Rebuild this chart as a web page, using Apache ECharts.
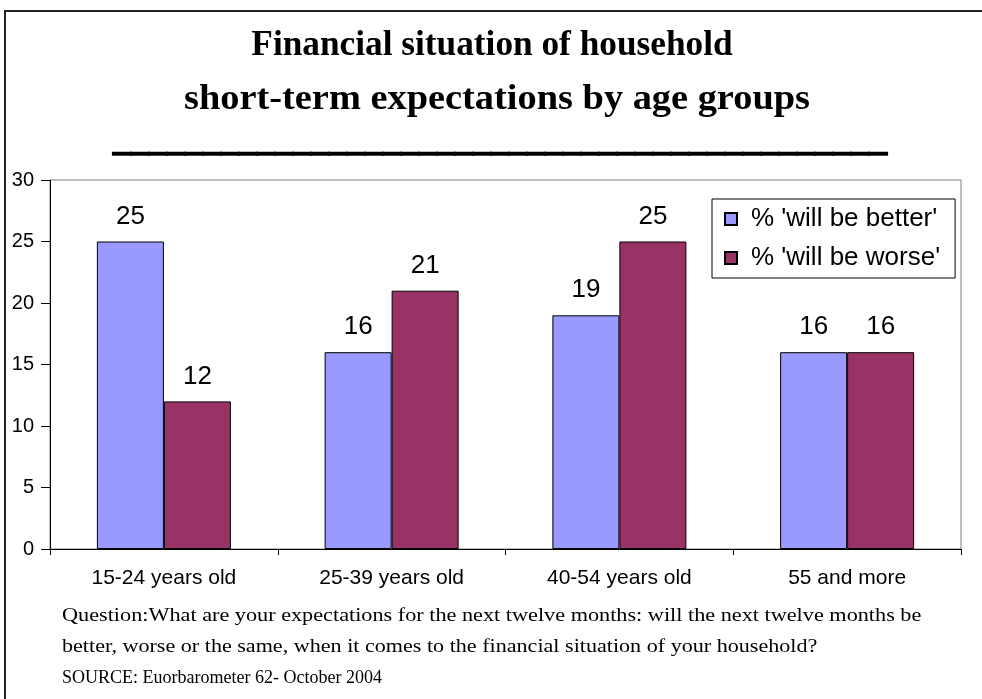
<!DOCTYPE html>
<html>
<head>
<meta charset="utf-8">
<script src="https://cdn.jsdelivr.net/npm/echarts@6/dist/echarts.min.js"></script>
<style>
html,body{margin:0;padding:0;background:#fff;}
#chart{width:982px;height:699px;}
</style>
</head>
<body>
<div id="chart"></div>
<script>
var categories = ['15-24 years old', '25-39 years old', '40-54 years old', '55 and more'];
var better = [25, 16, 19, 16];
var worse = [12, 21, 25, 16];
var seriesNames = ["% 'will be better'", "% 'will be worse'"];
var titleLines = ['Financial situation of household', 'short-term expectations by age groups'];
var footerLines = [
  'Question:What are your expectations for the next twelve months: will the next twelve months be',
  'better, worse or the same, when it comes to the financial situation of your household?',
  'SOURCE: Euorbarometer 62- October 2004'
];

var chart = echarts.init(document.getElementById('chart'), null, {renderer: 'canvas'});
var serif = '"Liberation Serif", "Times New Roman", serif';
var sans = '"Liberation Sans", Arial, sans-serif';

var graphics = [
  {type: 'rect', shape: {x: 5, y: 11, width: 1000, height: 700}, style: {fill: 'none', stroke: '#222', lineWidth: 2}, z: 0},
  {type: 'text', x: 492, y: 46, scaleX: 0.98, style: {x: 0, y: 0, text: titleLines[0], font: 'bold 36px ' + serif, fill: '#000', textAlign: 'center', textVerticalAlign: 'middle'}},
  {type: 'text', x: 497, y: 100, scaleX: 1.066, style: {x: 0, y: 0, text: titleLines[1], font: 'bold 36px ' + serif, fill: '#000', textAlign: 'center', textVerticalAlign: 'middle'}},
  {type: 'text', x: 500, y: 141, style: {text: new Array(44).join('_'), font: 'bold 36px ' + serif, fill: '#000', stroke: '#000', lineWidth: 1.6, textAlign: 'center', textVerticalAlign: 'middle'}}
];
var footerY = [616, 647, 678];
var footerScale = [1.235, 1.228, 1.0];
footerLines.forEach(function (t, i) {
  graphics.push({type: 'text', x: 62, y: footerY[i], scaleX: footerScale[i], style: {x: 0, y: 0, text: t, font: '18px ' + serif, fill: '#000', textAlign: 'left', textVerticalAlign: 'middle'}});
});

var labelStyle = {show: true, position: 'top', distance: 12, fontFamily: sans, fontSize: 26, color: '#000'};

chart.setOption({
  animation: false,
  backgroundColor: '#fff',
  grid: {left: 50, right: 21, top: 180, bottom: 150, show: true, borderColor: '#808080', borderWidth: 1, containLabel: false},
  legend: {
    orient: 'vertical', left: 712, top: 199,
    padding: [7, 15, 7, 12],
    itemWidth: 12, itemHeight: 12, itemGap: 13,
    borderColor: '#000', borderWidth: 1,
    icon: 'rect',
    textStyle: {fontFamily: sans, fontSize: 26, color: '#000', lineHeight: 26, padding: [0, 0, 0, 9]},
    data: seriesNames
  },
  xAxis: {
    type: 'category', data: categories,
    axisLine: {lineStyle: {color: '#000', width: 1}},
    axisTick: {show: true, length: 6, lineStyle: {color: '#000'}},
    axisLabel: {fontFamily: sans, fontSize: 21, color: '#000', margin: 19}
  },
  yAxis: {
    type: 'value', min: 0, max: 30, interval: 5,
    splitLine: {show: false},
    axisLine: {show: true, lineStyle: {color: '#000', width: 1}},
    axisTick: {show: true, length: 9, lineStyle: {color: '#000'}},
    axisLabel: {fontFamily: sans, fontSize: 20, color: '#000', margin: 16}
  },
  series: [
    {name: seriesNames[0], type: 'bar', data: better, barWidth: 67, barGap: '0%',
      itemStyle: {color: '#9999FF', borderColor: '#000', borderWidth: 1}, label: labelStyle},
    {name: seriesNames[1], type: 'bar', data: worse, barWidth: 67,
      itemStyle: {color: '#993366', borderColor: '#000', borderWidth: 1}, label: labelStyle}
  ],
  graphic: graphics
});
</script>
</body>
</html>
